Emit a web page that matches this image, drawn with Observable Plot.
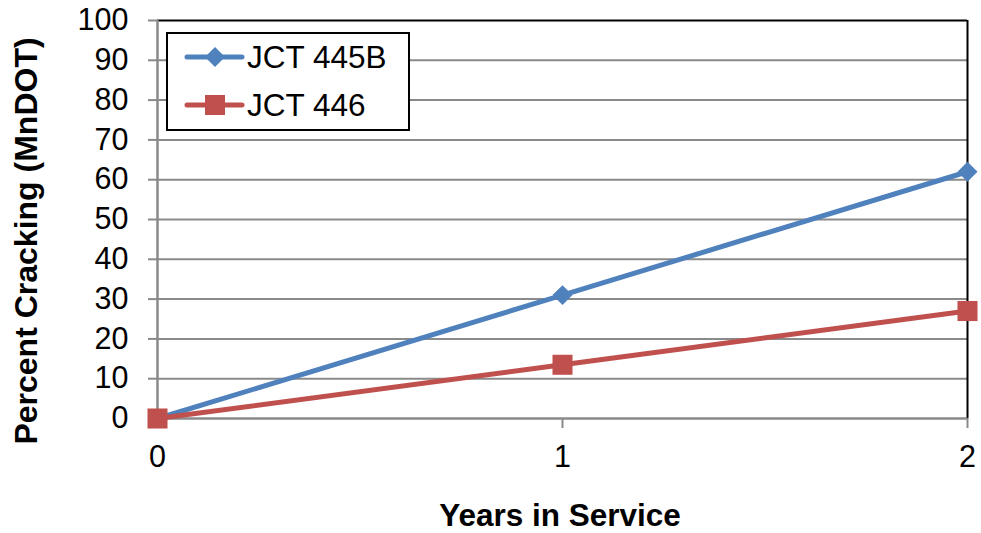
<!DOCTYPE html>
<html><head><meta charset="utf-8">
<script src="https://cdn.jsdelivr.net/npm/d3@7"></script>
<script src="https://cdn.jsdelivr.net/npm/@observablehq/plot@0.6"></script>
<style>body{margin:0;background:#fff}</style>
</head><body><div id="chart"></div>
<script>
const years = [0, 1, 2];
const jct445B = [0, 31, 62];
const jct446 = [0, 13.5, 27];
const seriesNames = ["JCT 445B", "JCT 446"];
const seriesColors = ["#4f81bd", "#c0504d"];
const yTicks = [0, 10, 20, 30, 40, 50, 60, 70, 80, 90, 100];
const xTicks = [0, 1, 2];
const xTitle = "Years in Service";
const yTitle = "Percent Cracking (MnDOT)";

const rows445 = years.map((x, i) => ({x, y: jct445B[i], s: seriesNames[0]}));
const rows446 = years.map((x, i) => ({x, y: jct446[i], s: seriesNames[1]}));
const gridC = "#8a8a8a";

const plot = Plot.plot({
  width: 981, height: 533,
  marginLeft: 157, marginRight: 14, marginTop: 20, marginBottom: 115,
  style: {fontFamily: "'Liberation Sans', Arial, sans-serif", fontSize: "30.5px", background: "white", color: "black", overflow: "visible"},
  x: {domain: [0, 2]},
  y: {domain: [0, 100]},
  color: {domain: seriesNames, range: seriesColors},
  marks: [
    Plot.ruleY(yTicks.filter(d => d > 0 && d < 100), {stroke: gridC, strokeWidth: 2}),
    Plot.ruleY([100], {stroke: "black", strokeWidth: 2}),
    Plot.ruleX([2], {stroke: "black", strokeWidth: 2}),
    Plot.ruleX([0], {stroke: gridC, strokeWidth: 2.5}),
    Plot.ruleY([0], {stroke: gridC, strokeWidth: 2.5}),
    Plot.axisY({ticks: yTicks, tickSize: 9, tickPadding: 20, stroke: gridC, strokeWidth: 2, fill: "black", label: null, tickFormat: d => String(d)}),
    Plot.axisX({ticks: xTicks, tickSize: 10, tickPadding: 17, stroke: gridC, strokeWidth: 2, fill: "black", label: null, tickFormat: d => String(d)}),
    Plot.line(rows445, {x: "x", y: "y", stroke: "s", strokeWidth: 5}),
    Plot.dot(rows445, {x: "x", y: "y", fill: "s", symbol: "diamond2", r: 9}),
    Plot.line(rows446, {x: "x", y: "y", stroke: "s", strokeWidth: 5}),
    Plot.dot(rows446, {x: "x", y: "y", fill: "s", symbol: "square", r: 11.3})
  ]
});

const svg = d3.select(plot);
// axis titles
svg.append("text").text(xTitle)
  .attr("x", 560).attr("y", 526).attr("text-anchor", "middle")
  .attr("font-weight", "bold").attr("font-size", 31.5).attr("fill", "black");
svg.append("text").text(yTitle)
  .attr("transform", "translate(37,241) rotate(-90)").attr("text-anchor", "middle")
  .attr("font-weight", "bold").attr("font-size", 32).attr("fill", "black");

// legend
const lg = svg.append("g");
lg.append("rect").attr("x", 167).attr("y", 33).attr("width", 242).attr("height", 97)
  .attr("fill", "white").attr("stroke", "black").attr("stroke-width", 2);
const legendSyms = [d3.symbol(d3.symbolDiamond2, 9 * 9 * Math.PI), d3.symbol(d3.symbolSquare, 11.3 * 11.3 * Math.PI)];
seriesNames.forEach((name, i) => {
  const cy = 57 + i * 48;
  lg.append("line").attr("x1", 187).attr("x2", 242).attr("y1", cy).attr("y2", cy)
    .attr("stroke", seriesColors[i]).attr("stroke-width", 5).attr("stroke-linecap", "round");
  lg.append("path").attr("d", legendSyms[i]()).attr("transform", `translate(215,${cy})`).attr("fill", seriesColors[i]);
  lg.append("text").text(name).attr("x", 247).attr("y", cy + 11).attr("text-anchor", "start")
    .attr("font-size", 31.5).attr("fill", "black");
});

document.getElementById("chart").appendChild(plot);
</script>
</body></html>
